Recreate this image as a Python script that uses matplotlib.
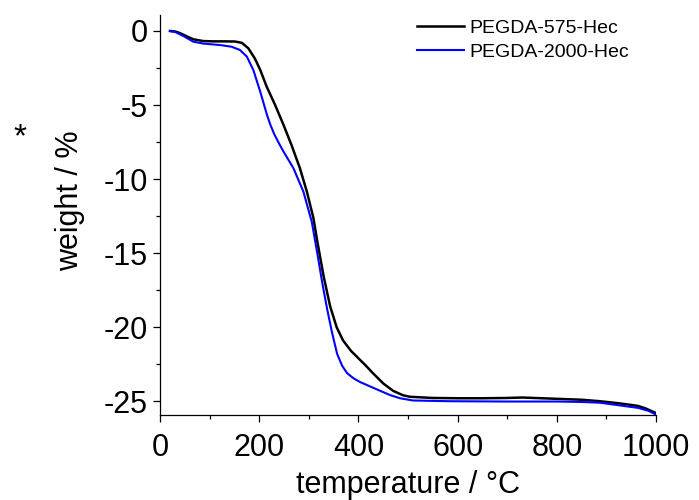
import numpy as np
import matplotlib
matplotlib.use("Agg")
import matplotlib.pyplot as plt
from matplotlib.ticker import MultipleLocator

plt.rcParams['font.family'] = ['Liberation Sans', 'DejaVu Sans']
plt.rcParams['axes.unicode_minus'] = False

# TGA data
t_575 = [20, 30, 40, 55, 67, 87, 107, 130, 151, 165, 178, 191, 202, 215, 232, 249, 265,
         282, 296, 309, 317, 330, 343, 356, 369, 385, 397, 415, 429, 450, 470, 490, 504,
         550, 600, 650, 700, 730, 770, 810, 850, 887, 920, 950, 964, 980, 1000]
w_575 = [0.0, -0.03, -0.14, -0.38, -0.56, -0.68, -0.7, -0.7, -0.71, -0.8, -1.17, -1.85,
         -2.63, -3.76, -5.0, -6.35, -7.7, -9.27, -10.85, -12.6, -14.2, -16.6, -18.6, -20.0,
         -20.9, -21.6, -22.0, -22.6, -23.1, -23.8, -24.3, -24.6, -24.7, -24.78, -24.8,
         -24.8, -24.78, -24.75, -24.8, -24.85, -24.9, -25.0, -25.12, -25.25, -25.32, -25.5,
         -25.8]

t_2000 = [20, 30, 47, 67, 87, 121, 144, 161, 175, 188, 202, 215, 222, 230, 240, 249,
          269, 289, 306, 317, 327, 337, 347, 357, 367, 377, 390, 403, 420, 444, 465, 484,
          510, 585, 700, 800, 850, 887, 920, 964, 985, 1000]
w_2000 = [0.0, -0.06, -0.34, -0.72, -0.85, -0.95, -1.06, -1.28, -1.73, -2.63, -4.1,
          -5.6, -6.3, -6.95, -7.6, -8.15, -9.27, -10.85, -12.9, -15.0, -17.0, -18.8, -20.4,
          -21.8, -22.6, -23.1, -23.45, -23.7, -23.95, -24.3, -24.6, -24.8, -24.95, -25.0,
          -25.02, -25.02, -25.05, -25.1, -25.25, -25.45, -25.65, -25.9]

fig = plt.figure(figsize=(6.99, 5.0), dpi=100)
ax = fig.add_axes([0.229, 0.17, 0.7095, 0.80])

ax.plot(t_575, w_575, color='black', lw=1.8, label='PEGDA-575-Hec')
ax.plot(t_2000, w_2000, color='#0000ff', lw=1.5, label='PEGDA-2000-Hec')

ax.set_xlim(0, 1000)
ax.set_ylim(-25.93, 1.08)
ax.xaxis.set_major_locator(MultipleLocator(200))
ax.xaxis.set_minor_locator(MultipleLocator(100))
ax.yaxis.set_major_locator(MultipleLocator(5))
ax.yaxis.set_minor_locator(MultipleLocator(2.5))

for s in ['top', 'right']:
    ax.spines[s].set_visible(False)
for s in ['left', 'bottom']:
    ax.spines[s].set_linewidth(0.9)

ax.tick_params(which='major', length=5, width=0.9, labelsize=22)
ax.tick_params(axis='x', which='major', pad=8)
ax.tick_params(axis='y', which='major', pad=4)
ax.tick_params(which='minor', length=3, width=0.9)

ax.set_xlabel('temperature / °C', fontsize=22, labelpad=5)
ax.set_ylabel('weight / %', fontsize=22)
ax.yaxis.set_label_coords(-0.151, 0.535)

fig.text(0.029, 0.708, '*', fontsize=24, ha='center', va='baseline')

ax.legend(loc='upper right', bbox_to_anchor=(0.962, 1.008), frameon=False, fontsize=14,
          handlelength=2.4, handletextpad=0.3, labelspacing=0.33, borderaxespad=0)

fig.savefig('out.png', dpi=100)
